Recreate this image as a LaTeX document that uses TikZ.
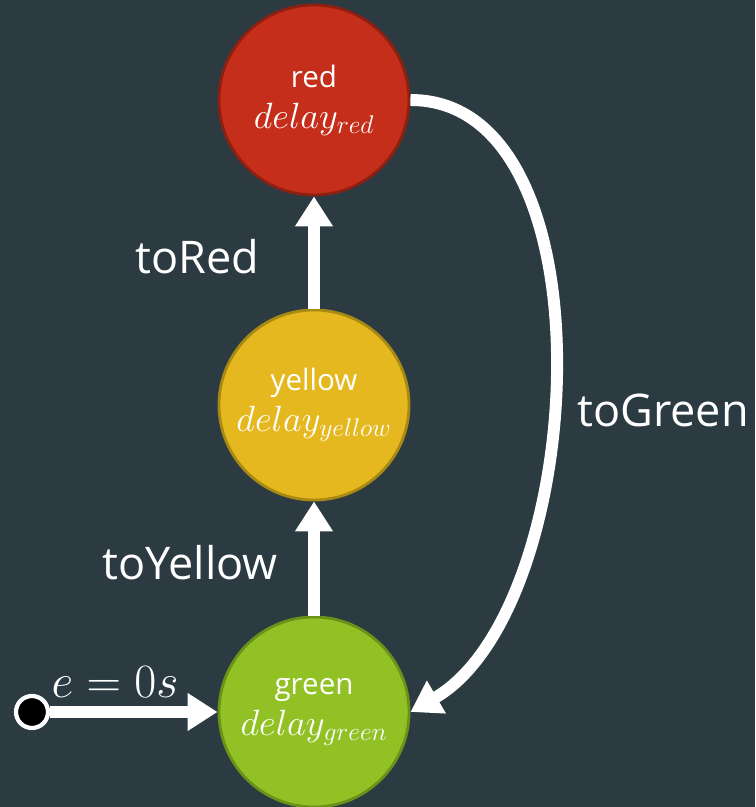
\RequirePackage{fix-cm}
\documentclass[tikz,border=0pt]{standalone}
\usepackage{fontspec}
\setmainfont{Open Sans}
\usetikzlibrary{arrows.meta}

\definecolor{bgcol}{HTML}{2C3A42}
\definecolor{redfill}{HTML}{C42E1A}
\definecolor{reddraw}{HTML}{8E2012}
\definecolor{yellowfill}{HTML}{E5B820}
\definecolor{yellowdraw}{HTML}{A88912}
\definecolor{greenfill}{HTML}{91C125}
\definecolor{greendraw}{HTML}{6A9118}

\begin{document}
\begin{tikzpicture}[x=0.025cm, y=0.025cm]
    \tikzstyle{state_style} = [circle, minimum size=4.75cm, line width=2pt, text=white, align=center, font=\fontsize{21}{26}\selectfont]
    \tikzstyle{arrow_style} = [-{Triangle[length=0.75cm, width=0.9cm]}, white, line width=8.5pt]
    \tikzstyle{label_style} = [text=white, font=\fontsize{32}{36}\selectfont]

    \fill[bgcol] (0,0) rectangle (755,807);
    \useasboundingbox (0,0) rectangle (755,807);

    \node[state_style, fill=redfill, draw=reddraw] (red) at (314,707) {red\\[3pt]{\fontsize{26}{28}\selectfont$delay_{red}$}};
    \node[state_style, fill=yellowfill, draw=yellowdraw] (yellow) at (314,402) {yellow\\[3pt]{\fontsize{26}{28}\selectfont$delay_{yellow}$}};
    \node[state_style, fill=greenfill, draw=greendraw] (green) at (314,95) {green\\[3pt]{\fontsize{26}{28}\selectfont$delay_{green}$}};
    \node[circle, fill=black, draw=white, line width=3pt, minimum size=0.8cm, inner sep=0pt] (init) at (32,95) {};

    \draw[arrow_style] (init) -- (green);
    \draw[arrow_style] (green) -- (yellow);
    \draw[arrow_style] (yellow) -- (red);
    \draw[arrow_style] (red.east) to[out=0, in=30, looseness=0.86] (green.east);

    \node[label_style] (lbl_red) at (197,550) {toRed};
    \node[label_style] (lbl_yellow) at (190,244) {toYellow};
    \node[label_style] (lbl_green) at (663,397) {toGreen};
    \node[label_style] (lbl_init) at (115,125) {\fontsize{34}{36}\selectfont$e=0s$};
\end{tikzpicture}
\end{document}
